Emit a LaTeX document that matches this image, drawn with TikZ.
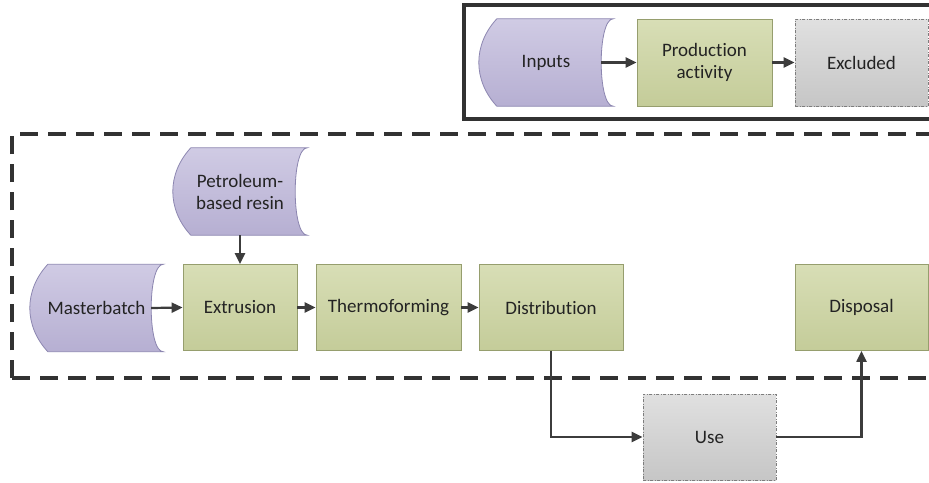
\documentclass[tikz,border=0pt]{standalone}
\usepackage{fontspec}
\setmainfont[Ligatures={NoCommon}]{Carlito}
\usetikzlibrary{arrows.meta,calc}
\definecolor{txt}{RGB}{35,35,35}
\definecolor{linec}{RGB}{60,60,60}
\definecolor{frame}{RGB}{50,50,50}
\definecolor{purtop}{RGB}{208,203,228}
\definecolor{purbot}{RGB}{182,175,210}
\definecolor{purdraw}{RGB}{140,134,176}
\definecolor{grntop}{RGB}{216,222,182}
\definecolor{grnbot}{RGB}{196,204,153}
\definecolor{grndraw}{RGB}{150,158,110}
\definecolor{grytop}{RGB}{224,224,224}
\definecolor{grybot}{RGB}{198,198,198}
\definecolor{grydraw}{RGB}{125,125,125}
\tikzset{
  x=1pt, y=-1pt,
  lbl/.style={font=\fontsize{19}{22}\selectfont, text=txt, align=center, inner sep=0pt},
  actbox/.style={lbl, draw=grndraw, line width=0.8pt, top color=grntop, bottom color=grnbot},
  exbox/.style={lbl, draw=grydraw, line width=0.8pt, dash pattern=on 3pt off 1.5pt on 1pt off 1.5pt, top color=grytop, bottom color=grybot},
  inbox/.style={lbl},
  inshape/.style={draw=purdraw, line width=0.8pt, top color=purtop, bottom color=purbot},
  flow/.style={draw=linec, line width=2.2pt, -{Triangle[length=11pt,width=10pt]}},
  bound/.style={draw=frame, line width=3.6pt, dash pattern=on 18pt off 10pt},
}
% stored-data shape around a node: #1 node name
\newcommand{\storedshape}[1]{%
  \shade[inshape] ($(#1.north west)+(18,0)$) -- (#1.north east)
    .. controls ($(#1.north east)+(-16,0)$) and ($(#1.south east)+(-16,0)$) .. (#1.south east)
    -- ($(#1.south west)+(18,0)$)
    .. controls ($(#1.south west)+(-6,-26)$) and ($(#1.north west)+(-6,26)$) .. cycle;}
\begin{document}
\begin{tikzpicture}
\useasboundingbox (0,0) rectangle (929,482);
\clip (0,0) rectangle (929,482);
\fill[white] (0,0) rectangle (929,482);

% legend frame
\draw[draw=frame, line width=4pt] (945,5) -- (464,5) -- (464,119) -- (945,119);
% system boundary
\draw[bound] (12,378) -- (12,134) -- (960,134);
\draw[bound] (12,378) -- (960,378);

% legend nodes
\node[inbox, minimum width=134pt, minimum height=87pt] (inputs) at (546,62.5) {};
\storedshape{inputs}
\node[lbl] (inputsT) at (inputs.center) {Inputs};
\node[actbox, minimum width=135pt, minimum height=87pt] (prod) at (704.5,62.5) {Production\\activity};
\node[exbox, minimum width=133pt, minimum height=87pt] (excl) at (861.5,62.5) {Excluded};
\coordinate (inR) at ($(inputs.east)+(-12,0)$);
\draw[flow] (inR) -- (prod.west);
\draw[flow] (prod.east) -- (excl.west);

% main nodes
\node[inbox, minimum width=134pt, minimum height=87pt] (resin) at (240,191.5) {};
\storedshape{resin}
\node[lbl] (resinT) at (resin.center) {Petroleum-\\based resin};
\node[inbox, minimum width=133pt, minimum height=87pt] (mb) at (96.5,308) {};
\storedshape{mb}
\node[lbl] (mbT) at (mb.center) {Masterbatch};

\node[actbox, minimum width=114pt, minimum height=86pt] (extr) at (240,307.5) {Extrusion};
\node[actbox, minimum width=145pt, minimum height=86pt] (thermo) at (388.5,307.5) {Thermoforming};
\node[actbox, minimum width=144pt, minimum height=86pt] (dist) at (551,307.5) {Distribution};
\node[actbox, minimum width=133pt, minimum height=86pt] (disp) at (861.5,307.5) {Disposal};
\node[exbox, minimum width=133pt, minimum height=86pt] (use) at (709.5,437) {Use};

\coordinate (mbR) at ($(mb.east)+(-12,0)$);
\draw[flow] (mbR) -- (extr.west);
\draw[flow] (resin.south) -- (extr.north);
\draw[flow] (extr.east) -- (thermo.west);
\draw[flow] (thermo.east) -- (dist.west);
\draw[flow] (dist.south) |- (use.west);
\draw[flow] (use.east) -| (disp.south);
\end{tikzpicture}
\end{document}
